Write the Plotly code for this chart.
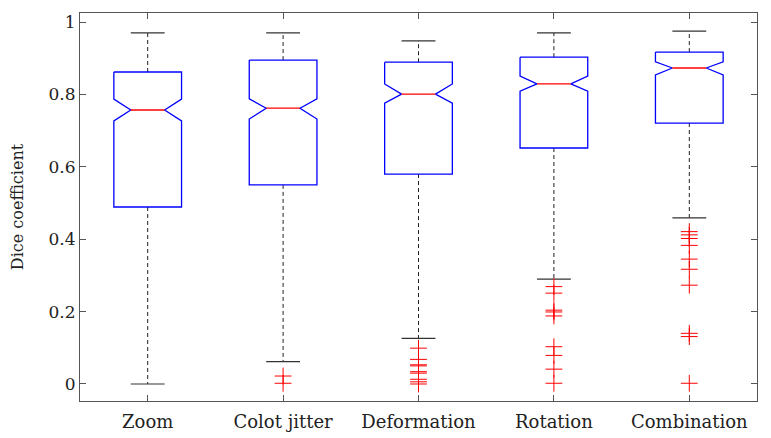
import plotly.graph_objects as go

# values (Dice coefficient per augmentation)
categories = ['Zoom', 'Colot jitter', 'Deformation', 'Rotation', 'Combination']
upper_whisker = [0.970, 0.970, 0.948, 0.970, 0.975]
q3 = [0.862, 0.895, 0.889, 0.903, 0.917]
notch_hi = [0.787, 0.788, 0.829, 0.851, 0.890]
median = [0.757, 0.762, 0.801, 0.829, 0.873]
notch_lo = [0.727, 0.732, 0.776, 0.809, 0.854]
q1 = [0.489, 0.550, 0.580, 0.652, 0.721]
lower_whisker = [0.000, 0.062, 0.126, 0.290, 0.459]
outliers = [
    [],
    [0.022, 0.002],
    [0.099, 0.068, 0.053, 0.050, 0.034, 0.030, 0.013, 0.006, 0.000],
    [0.269, 0.251, 0.204, 0.199, 0.188, 0.103, 0.079, 0.041, 0.002],
    [0.421, 0.412, 0.402, 0.383, 0.345, 0.317, 0.273, 0.140, 0.131, 0.002],
]

FONT = 'DejaVu Serif'
half_box = 0.25
half_notch = 0.125
half_cap = 0.125

positions = list(range(1, len(categories) + 1))

wx, wy, cx, cy, bx, by, mx, my, ox, oy = [], [], [], [], [], [], [], [], [], []
for i, p in enumerate(positions):
    # dashed whiskers
    wx += [p, p, None, p, p, None]
    wy += [q3[i], upper_whisker[i], None, q1[i], lower_whisker[i], None]
    # caps
    cx += [p - half_cap, p + half_cap, None, p - half_cap, p + half_cap, None]
    cy += [upper_whisker[i], upper_whisker[i], None,
           lower_whisker[i], lower_whisker[i], None]
    # notched box outline
    bx += [p - half_box, p + half_box, p + half_box, p + half_notch,
           p + half_box, p + half_box, p - half_box, p - half_box,
           p - half_notch, p - half_box, p - half_box, None]
    by += [q3[i], q3[i], notch_hi[i], median[i], notch_lo[i], q1[i],
           q1[i], notch_lo[i], median[i], notch_hi[i], q3[i], None]
    # median
    mx += [p - half_notch, p + half_notch, None]
    my += [median[i], median[i], None]
    ox += [p] * len(outliers[i])
    oy += outliers[i]

fig = go.Figure()
fig.add_trace(go.Scatter(x=wx, y=wy, mode='lines',
                         line={'color': '#222', 'width': 1, 'dash': '4px,3px'}))
fig.add_trace(go.Scatter(x=cx, y=cy, mode='lines',
                         line={'color': '#333', 'width': 1.2}))
fig.add_trace(go.Scatter(x=bx, y=by, mode='lines',
                         line={'color': '#0000ff', 'width': 1.3}))
fig.add_trace(go.Scatter(x=mx, y=my, mode='lines',
                         line={'color': '#ff0000', 'width': 1.3}))
fig.add_trace(go.Scatter(x=ox, y=oy, mode='markers',
                         marker={'symbol': 'cross-thin', 'size': 12,
                                 'line': {'color': '#ff0000', 'width': 1}}))

axis_style = dict(showline=True, linecolor='#555', linewidth=1, mirror='ticks',
                  ticks='inside', ticklen=6, tickcolor='#555', showgrid=False,
                  zeroline=False)
fig.update_xaxes(range=[0.5, 5.5], tickvals=positions, ticktext=categories,
                 tickfont={'family': FONT, 'size': 18, 'color': '#222'},
                 ticklabelstandoff=4, **axis_style)
fig.update_yaxes(range=[-0.047, 1.025], tickvals=[0, 0.2, 0.4, 0.6, 0.8, 1],
                 ticktext=['0', '0.2', '0.4', '0.6', '0.8', '1'],
                 tickfont={'family': FONT, 'size': 17, 'color': '#222'},
                 title={'text': 'Dice coefficient',
                        'font': {'family': FONT, 'size': 16, 'color': '#222'},
                        'standoff': 20},
                 **axis_style)
# page body adds an 8px offset, so the figure is sized to fit inside the window
fig.update_layout(width=763, height=430, showlegend=False,
                  plot_bgcolor='white', paper_bgcolor='white',
                  margin={'l': 72, 'r': 14, 't': 5, 'b': 37})
fig.write_html("out.html")
